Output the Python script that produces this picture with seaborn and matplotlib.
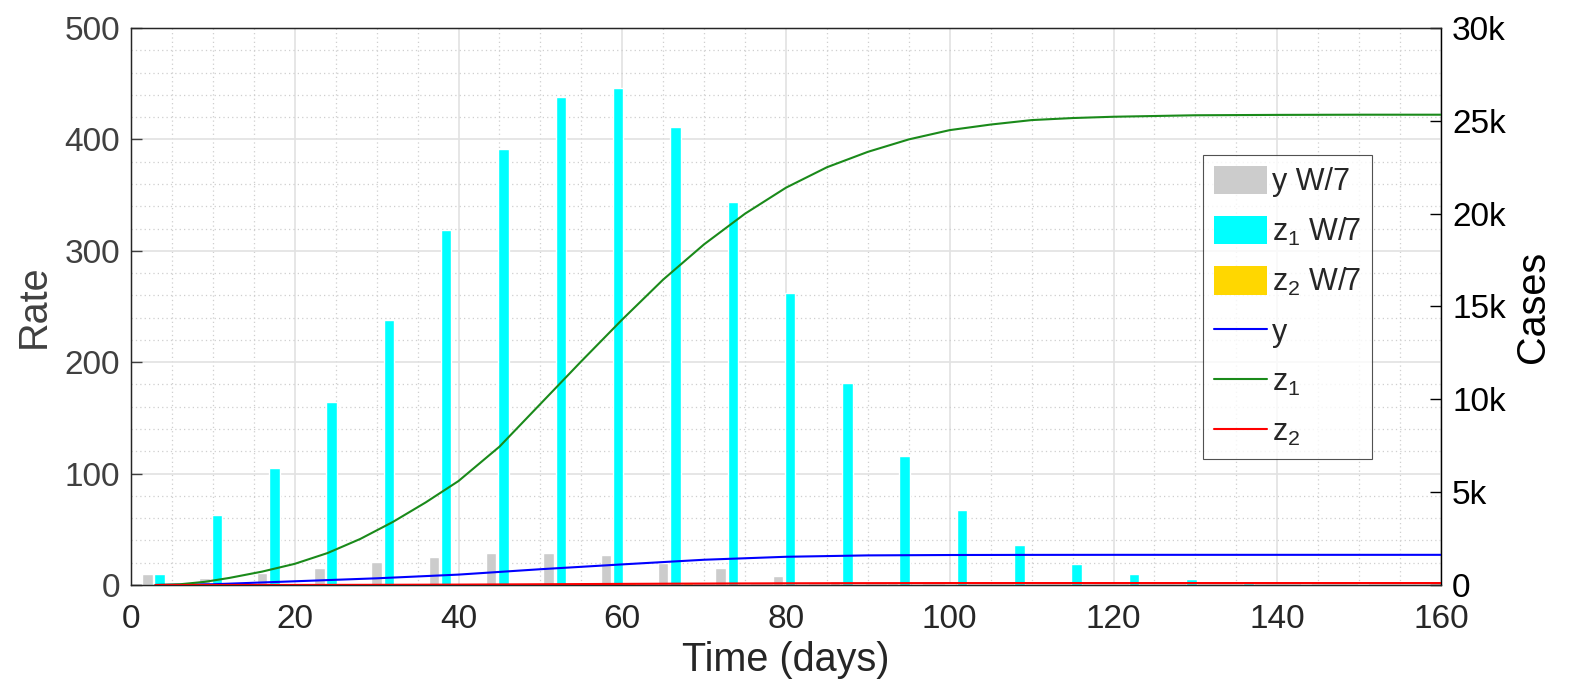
import numpy as np
import pandas as pd
import matplotlib
matplotlib.use("Agg")
import matplotlib.pyplot as plt
from matplotlib.ticker import MultipleLocator, FuncFormatter
from matplotlib.patches import Patch
from matplotlib.lines import Line2D
import seaborn as sns

# weekly bar centres (days) and weekly averages of daily counts (W/7)
week_days = [3.5 + 7 * k for k in range(23)]
y_w7 = [9.6, 6.0, 10.8, 15.0, 20.4, 25.5, 29.0, 29.0, 26.7, 19.5, 15.0, 8.5,
        4.0, 1.8, 0.8, 0.4, 0.2, 0.1, 0.0, 0.0, 0.0, 0.0, 0.0]
z1_w7 = [10, 63, 105, 164, 238, 319, 391, 438, 446, 411, 344, 262,
         181, 116, 67, 36, 19, 10, 5, 2, 1, 0.5, 0.2]
z2_w7 = [0.0, 0.1, 0.3, 0.6, 1.0, 1.3, 1.5, 1.6, 1.6, 1.5, 1.3, 1.0,
         0.7, 0.5, 0.3, 0.2, 0.1, 0.05, 0.02, 0.0, 0.0, 0.0, 0.0]

# cumulative cases (right axis)
z1_days = [3, 6, 9, 12, 16, 20, 24, 28, 32, 36, 40, 45, 50, 55, 60, 65, 70, 75,
           80, 85, 90, 95, 100, 105, 110, 115, 120, 130, 140, 150, 160]
z1_cases = [0, 40, 170, 380, 720, 1140, 1720, 2480, 3400, 4450, 5600, 7450, 9750,
            12050, 14300, 16450, 18350, 20000, 21400, 22500, 23330, 24000, 24500,
            24800, 25040, 25150, 25220, 25300, 25320, 25330, 25330]
y_days = [3, 10, 20, 30, 40, 50, 60, 70, 80, 90, 100, 110, 120, 160]
y_cases = [0, 40, 200, 360, 560, 850, 1110, 1360, 1520, 1595, 1615, 1622, 1625, 1625]
z2_days = [3, 20, 30, 40, 50, 60, 70, 80, 90, 100, 110, 160]
z2_cases = [0, 3, 10, 22, 40, 60, 78, 92, 100, 104, 105, 105]

bar_names = ["y W/7", "z$_1$ W/7", "z$_2$ W/7"]
bar_colors = ["#cccccc", "#00ffff", "#ffd700"]

sns.set_style("white")
plt.rcParams["font.family"] = ["Liberation Sans", "DejaVu Sans"]
plt.rcParams["mathtext.default"] = "regular"

bars = pd.DataFrame({
    "day": week_days * 3,
    "rate": y_w7 + z1_w7 + z2_w7,
    "series": [bar_names[0]] * 23 + [bar_names[1]] * 23 + [bar_names[2]] * 23,
})

fig = plt.figure(figsize=(15.69, 6.87), dpi=100)
ax = fig.add_axes([131 / 1569, 1 - 585 / 687, (1441 - 131) / 1569, (585 - 28) / 687])

sns.barplot(data=bars, x="day", y="rate", hue="series", hue_order=bar_names,
            palette=bar_colors, native_scale=True, width=0.643, gap=0.15,
            errorbar=None, legend=False, saturation=1, ax=ax)

ax.set_xlim(0, 160)
ax.set_ylim(0, 500)
ax.xaxis.set_major_locator(MultipleLocator(20))
ax.xaxis.set_minor_locator(MultipleLocator(5))
ax.yaxis.set_major_locator(MultipleLocator(100))
ax.yaxis.set_minor_locator(MultipleLocator(20))
ax.set_axisbelow(True)
ax.grid(which="major", color="#e2e2e2", lw=1.2, ls="-")
ax.grid(which="minor", color="#cfcfcf", lw=0.9, ls=(0, (1, 2.5)))
ax.tick_params(which="major", direction="in", length=8, width=1, labelsize=24)
ax.tick_params(axis="x", colors="#262626", pad=14)
ax.tick_params(axis="y", colors="#404040", pad=8)
ax.tick_params(which="minor", length=0)
ax.set_xlabel("Time (days)", fontsize=28.5, color="#262626", labelpad=4)
ax.set_ylabel("Rate", fontsize=28.5, color="#404040", labelpad=8)
for s in ax.spines.values():
    s.set_color("#262626")
    s.set_linewidth(1)

ax2 = ax.twinx()
sns.lineplot(x=y_days, y=y_cases, color="#0000ff", lw=1.5, ax=ax2)
sns.lineplot(x=z1_days, y=z1_cases, color="#1a8a1a", lw=1.5, ax=ax2)
sns.lineplot(x=z2_days, y=z2_cases, color="#ff0000", lw=1.5, ax=ax2)
ax2.set_ylim(0, 30000)
ax2.yaxis.set_major_locator(MultipleLocator(5000))
ax2.yaxis.set_major_formatter(FuncFormatter(lambda v, p: "0" if v == 0 else f"{int(v / 1000)}k"))
ax2.tick_params(direction="in", length=8, width=1, labelsize=24, colors="black", pad=8)
ax2.set_ylabel("Cases", fontsize=28.5, color="black", labelpad=6)
ax2.spines["right"].set_color("black")
ax2.grid(False)

handles = [Patch(facecolor=c, edgecolor="none") for c in bar_colors]
handles += [Line2D([], [], color="#0000ff", lw=1.5),
            Line2D([], [], color="#1a8a1a", lw=1.5),
            Line2D([], [], color="#ff0000", lw=1.5)]
labels = bar_names + ["y", "z$_1$", "z$_2$"]
leg = ax2.legend(handles, labels, loc="upper left",
                 bbox_to_anchor=(1203 / 1569, 1 - 155 / 687),
                 bbox_transform=fig.transFigure, fontsize=22, frameon=True,
                 fancybox=False, edgecolor="#262626", handlelength=1.75,
                 handleheight=1.05, labelspacing=0.6, borderpad=0.35,
                 handletextpad=0.15, borderaxespad=0)
leg.get_frame().set_linewidth(0.8)

fig.savefig("out.png", dpi=100)
